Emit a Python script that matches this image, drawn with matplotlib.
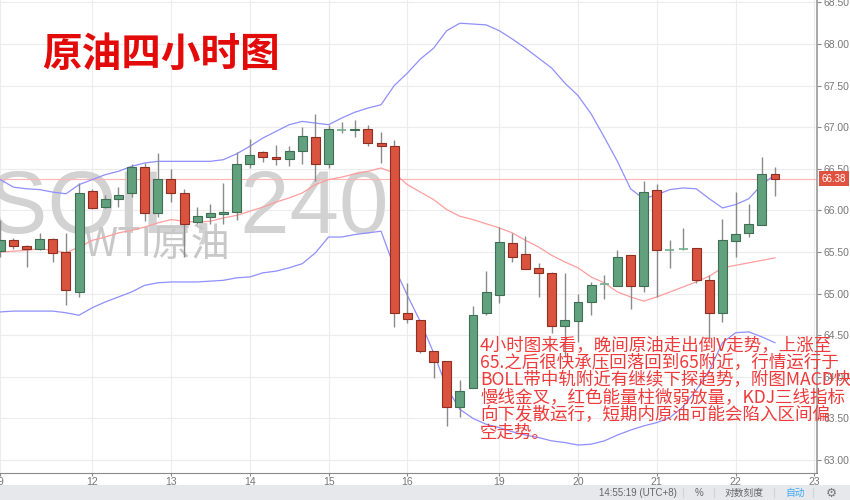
#%% Libraries
"""
USOIL 4h candles with BOLL bands, light chart style
"""
import numpy as np
import matplotlib
matplotlib.use('Agg')
import matplotlib.pyplot as plt
import matplotlib.transforms as mtransforms
from matplotlib.patches import Rectangle

#%% Data
opens = [65.51, 65.64, 65.57, 65.54, 65.66, 65.50, 65.02, 66.23, 66.04, 66.14,
         66.21, 66.52, 65.97, 66.38, 66.21, 65.86, 65.92, 65.96, 65.98, 66.56,
         66.70, 66.64, 66.62, 66.71, 66.88, 66.56, 66.97, 66.97, 66.98, 66.81,
         66.77, 64.77, 64.68, 64.31, 64.19, 63.64, 63.87, 64.77, 64.98, 65.61,
         65.48, 65.31, 65.25, 64.61, 64.67, 64.90, 65.11, 65.09, 65.46, 65.09,
         66.25, 65.52, 65.54, 65.55, 65.16, 64.77, 65.63, 65.73, 65.83, 66.44]
highs = [65.89, 65.67, 65.58, 65.73, 65.67, 65.73, 66.33, 66.26, 66.19, 66.28,
         66.56, 66.57, 66.69, 66.50, 66.26, 66.04, 66.08, 66.33, 66.70, 66.86,
         66.71, 66.79, 66.77, 67.00, 67.16, 67.03, 67.06, 67.09, 67.03, 66.94,
         66.85, 65.13, 64.68, 64.31, 64.19, 63.96, 64.85, 65.27, 65.80, 65.73,
         65.69, 65.37, 65.26, 65.25, 64.99, 65.14, 65.22, 65.52, 65.47, 66.35,
         66.32, 65.64, 65.79, 65.55, 65.22, 65.90, 66.22, 66.08, 66.64, 66.52]
lows = [65.44, 65.54, 65.32, 65.52, 65.38, 64.86, 64.96, 66.02, 66.03, 66.04,
        66.16, 65.87, 65.92, 66.10, 65.44, 65.84, 65.84, 65.84, 65.89, 66.51,
        66.58, 66.55, 66.53, 66.56, 66.35, 66.51, 66.93, 66.88, 66.77, 66.57,
        64.60, 64.65, 64.29, 63.99, 63.41, 63.52, 63.87, 64.74, 64.89, 65.38,
        65.30, 64.96, 64.53, 64.24, 64.42, 64.74, 64.94, 65.09, 64.81, 65.02,
        64.96, 65.31, 65.52, 65.13, 64.44, 64.66, 65.44, 65.68, 65.83, 66.17]
closes = [65.64, 65.57, 65.54, 65.66, 65.49, 65.04, 66.21, 66.03, 66.14, 66.19,
          66.52, 65.97, 66.38, 66.21, 65.84, 65.93, 65.97, 65.98, 66.56, 66.67,
          66.64, 66.62, 66.71, 66.89, 66.56, 66.98, 66.97, 66.98, 66.81, 66.77,
          64.77, 64.69, 64.31, 64.18, 63.64, 63.83, 64.74, 65.02, 65.62, 65.44,
          65.30, 65.25, 64.61, 64.68, 64.90, 65.10, 65.11, 65.44, 65.09, 66.22,
          65.52, 65.52, 65.54, 65.16, 64.77, 65.64, 65.72, 65.84, 66.44, 66.38]

boll_up = [66.37, 66.28, 66.26, 66.25, 66.22, 66.20, 66.31, 66.37, 66.43, 66.47,
           66.53, 66.57, 66.59, 66.59, 66.59, 66.59, 66.59, 66.61, 66.68, 66.77,
           66.87, 66.95, 67.03, 67.07, 67.05, 67.03, 67.11, 67.18, 67.23, 67.27,
           67.50, 67.65, 67.82, 67.95, 68.16, 68.25, 68.24, 68.23, 68.16, 68.06,
           67.95, 67.83, 67.71, 67.53, 67.38, 67.16, 66.88, 66.59, 66.26, 66.14,
           66.19, 66.25, 66.27, 66.26, 66.14, 66.03, 66.07, 66.14, 66.31, 66.43]
boll_mid = [65.50, 65.51, 65.52, 65.54, 65.52, 65.49, 65.56, 65.64, 65.68, 65.73,
            65.76, 65.80, 65.85, 65.89, 65.87, 65.86, 65.87, 65.91, 65.94, 65.99,
            66.04, 66.10, 66.15, 66.21, 66.31, 66.37, 66.40, 66.44, 66.47, 66.51,
            66.45, 66.31, 66.22, 66.13, 66.01, 65.93, 65.89, 65.84, 65.79, 65.73,
            65.64, 65.56, 65.46, 65.38, 65.31, 65.20, 65.13, 65.02, 64.96, 64.91,
            64.96, 65.02, 65.08, 65.14, 65.21, 65.31, 65.34, 65.37, 65.40, 65.43]
boll_dn = [64.78, 64.79, 64.79, 64.79, 64.79, 64.77, 64.74, 64.83, 64.90, 64.96,
           65.02, 65.10, 65.13, 65.14, 65.14, 65.14, 65.15, 65.16, 65.19, 65.20,
           65.25, 65.27, 65.31, 65.36, 65.49, 65.68, 65.68, 65.71, 65.73, 65.75,
           65.32, 64.98, 64.66, 64.29, 63.87, 63.61, 63.50, 63.43, 63.39, 63.34,
           63.30, 63.27, 63.23, 63.21, 63.18, 63.19, 63.23, 63.30, 63.36, 63.41,
           63.45, 63.51, 63.64, 63.84, 64.08, 64.41, 64.53, 64.54, 64.48, 64.41]

day_labels = ['9', '12', '13', '14', '15', '16', '19', '20', '21', '22', '23']
day_start = [0, 7, 13, 19, 25, 31, 38, 44, 50, 56, 62]   # candle index of each day
last_price = 66.38

note_lines = ['4小时图来看，晚间原油走出倒V走势，上涨至',
              '65.之后很快承压回落回到65附近，行情运行于',
              'BOLL带中轨附近有继续下探趋势，附图MACD快',
              '慢线金叉，红色能量柱微弱放量，KDJ三线指标',
              '向下发散运行，短期内原油可能会陷入区间偏',
              '空走势。']

#%% Figure
W, H = 850, 500
fig = plt.figure(figsize=(8.5, 5), dpi=100)
fig.patch.set_facecolor('white')
ax = fig.add_axes([0, 27 / H, 817 / W, 1 - 27 / H])
cjk = ['Noto Sans CJK SC', 'DejaVu Sans']

def fx(px):
    return px / W

def fy(py):
    return 1 - py / H

up_fill, up_edge = '#62a17e', '#3e6e53'
dn_fill, dn_edge = '#d9533f', '#8f2f22'

x = np.arange(len(opens))
o = np.array(opens); c = np.array(closes)
hi = np.array(highs); lo = np.array(lows)
is_up = c >= o

# wicks
ax.vlines(x, lo, hi, color='#8a8a8a', lw=1.0, zorder=3)
# bodies
body_w = 0.68
flat = np.isclose(o, c)
ax.bar(x[~flat], np.abs(c - o)[~flat], bottom=np.minimum(o, c)[~flat], width=body_w,
       color=np.where(is_up, up_fill, dn_fill)[~flat],
       edgecolor=np.where(is_up, up_edge, dn_edge)[~flat], linewidth=0.8, zorder=4)
ax.hlines(o[flat], x[flat] - body_w / 2, x[flat] + body_w / 2, color='#6fb08b', lw=1.2, zorder=4)

# BOLL
ax.plot(x, boll_up, color='#8f8fff', lw=0.9, zorder=2)
ax.plot(x, boll_dn, color='#8f8fff', lw=0.9, zorder=2)
ax.plot(x, boll_mid, color='#ff9d9d', lw=0.9, zorder=2)
ax.axhline(last_price, color='#ffb3b3', lw=0.8, zorder=1)

# watermark, behind the candles
ax.text(fx(388), fy(232), 'USOIL, 240', transform=fig.transFigure, family='Liberation Sans',
        fontsize=64, color='#d2d2d2', ha='right', va='baseline', zorder=0.8)
ax.text(fx(84), fy(245), 'WTI原油', transform=fig.transFigure, family=cjk,
        fontsize=28, color='#c8c8c8', ha='left', va='center', zorder=0.8)

# axes styling
ax.set_xlim(-0.02, 62.2)
ax.set_ylim(62.844, 68.529)
ax.set_xticks(day_start)
ax.set_xticklabels(day_labels)
ax.set_yticks(np.arange(63.0, 68.51, 0.5))
ax.yaxis.tick_right()
ax.yaxis.set_major_formatter(matplotlib.ticker.FormatStrFormatter('%.2f'))
ax.tick_params(axis='both', labelsize=7.5, colors='#8a8a8a', length=3, width=0.8,
               labelcolor='#777777', pad=2)
ax.tick_params(axis='x', pad=1, length=2)
for lab in ax.get_xticklabels() + ax.get_yticklabels():
    lab.set_family('Liberation Sans')
ax.grid(True, color='#ececec', lw=0.8, zorder=0)
ax.set_axisbelow(True)
for s in ['top', 'left']:
    ax.spines[s].set_visible(False)
ax.spines['bottom'].set_color('#8a8a8a')
ax.spines['right'].set_color('#9a9a9a')
ax.spines['right'].set_linewidth(1.2)

# last price tag
trans = mtransforms.blended_transform_factory(ax.transAxes, ax.transData)
ax.text(1.006, last_price, '66.38', transform=trans, ha='left', va='center',
        fontsize=7, color='white', family='Liberation Sans', zorder=6,
        bbox=dict(boxstyle='square,pad=0.25', fc='#df5240', ec='none'), clip_on=False)

# title
fig.text(fx(42), fy(54), '原油四小时图', family=cjk,
         fontsize=28.5, fontweight='bold', color='#e30a0a', ha='left', va='center')

# commentary
for k, line in enumerate(note_lines):
    fig.text(fx(480), fy(345 + 17.6 * k), line, family=cjk,
             fontsize=12.6, color='#ee3a3a', ha='left', va='center', zorder=10)

# bottom status bar
fig.patches.append(Rectangle((0, 0), 1, fy(485), transform=fig.transFigure,
                             fc='#e6e8ec', ec='none', zorder=0))
bar_y = fy(493)
fig.text(fx(638), bar_y, '14:55:19 (UTC+8)', family='Liberation Sans', fontsize=7,
         color='#666666', ha='center', va='center')
fig.text(fx(699), bar_y, '%', family='Liberation Sans', fontsize=7, color='#666666',
         ha='center', va='center')
fig.text(fx(744), bar_y, '对数刻度', family=cjk, fontsize=7, color='#666666',
         ha='center', va='center')
fig.text(fx(795), bar_y, '自动', family=cjk, fontsize=7, color='#3fa9f5',
         ha='center', va='center')
fig.text(fx(831), bar_y, '⚙', family=['DejaVu Sans'], fontsize=9, color='#777777',
         ha='center', va='center')
for sx in [683, 714, 774, 813]:
    fig.add_artist(plt.Line2D([fx(sx), fx(sx)], [fy(488), fy(497)], color='#cfd2d8',
                              lw=0.8, transform=fig.transFigure))

fig.savefig('out.png', dpi=100, facecolor='white')
